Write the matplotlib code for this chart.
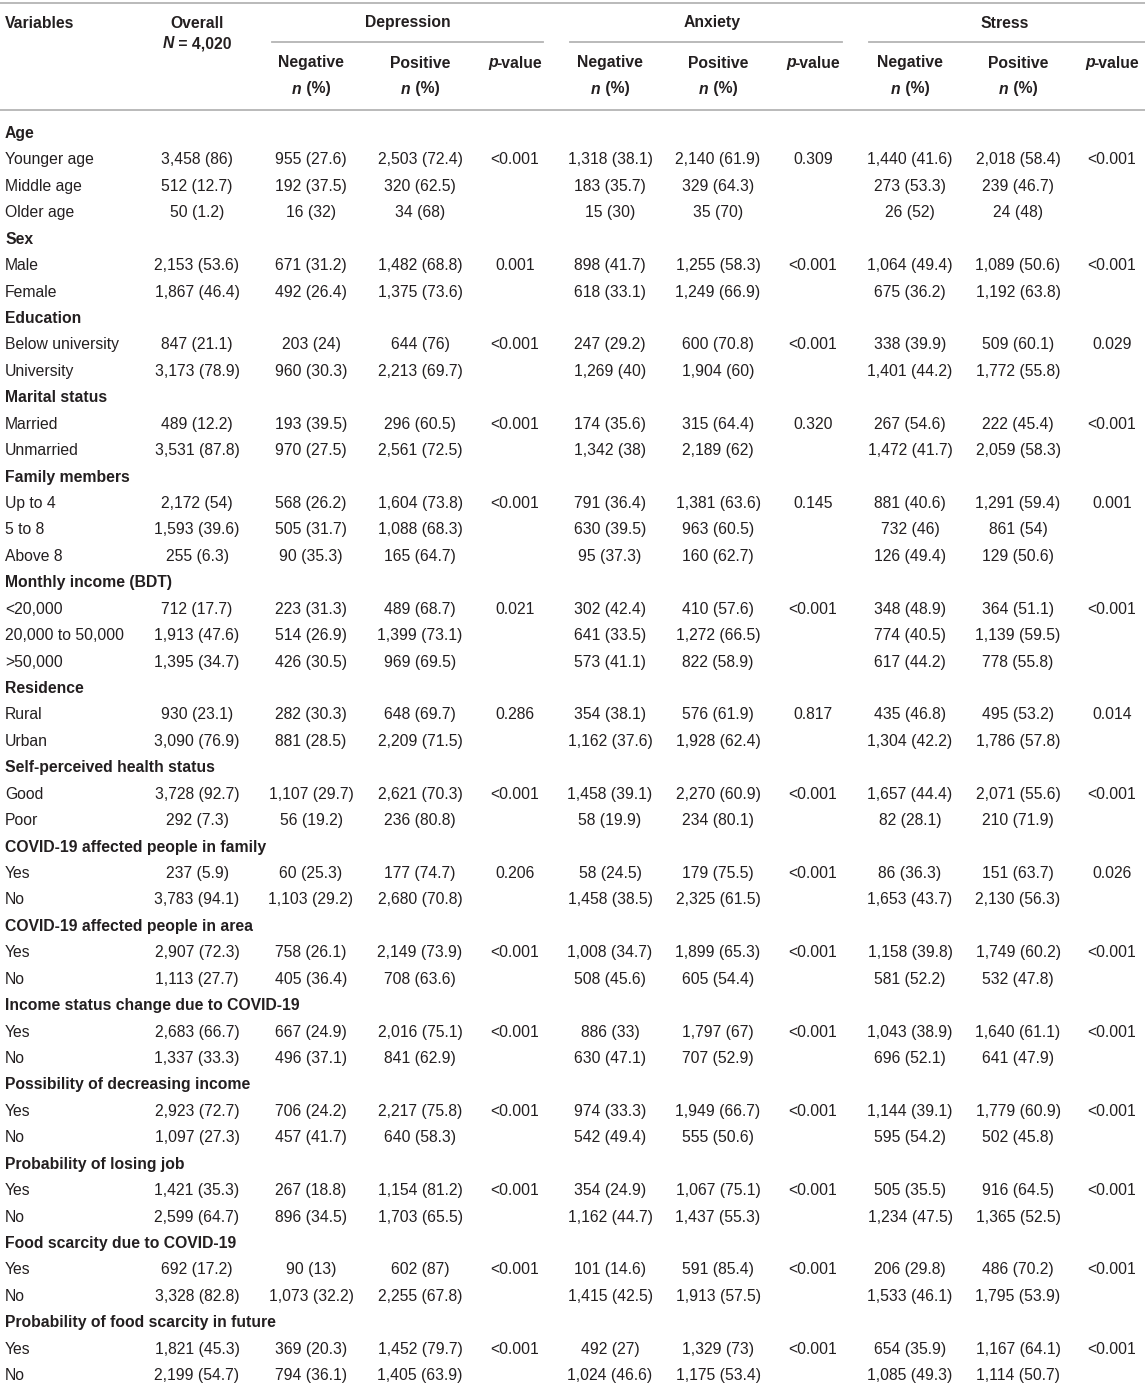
import matplotlib.pyplot as plt

plt.rcParams['font.family'] = ['Liberation Sans', 'DejaVu Sans']

# ---- data ----
sections = ["Age", "Sex", "Education", "Marital status", "Family members",
            "Monthly income (BDT)", "Residence", "Self-perceived health status",
            "COVID-19 affected people in family", "COVID-19 affected people in area",
            "Income status change due to COVID-19", "Possibility of decreasing income",
            "Probability of losing job", "Food scarcity due to COVID-19",
            "Probability of food scarcity in future"]
labels = [
    ["Younger age", "Middle age", "Older age"],
    ["Male", "Female"],
    ["Below university", "University"],
    ["Married", "Unmarried"],
    ["Up to 4", "5 to 8", "Above 8"],
    ["<20,000", "20,000 to 50,000", ">50,000"],
    ["Rural", "Urban"],
    ["Good", "Poor"],
    ["Yes", "No"], ["Yes", "No"], ["Yes", "No"], ["Yes", "No"],
    ["Yes", "No"], ["Yes", "No"], ["Yes", "No"],
]

overall = ["3,458 (86)", "512 (12.7)", "50 (1.2)", "2,153 (53.6)", "1,867 (46.4)",
           "847 (21.1)", "3,173 (78.9)", "489 (12.2)", "3,531 (87.8)",
           "2,172 (54)", "1,593 (39.6)", "255 (6.3)", "712 (17.7)", "1,913 (47.6)",
           "1,395 (34.7)", "930 (23.1)", "3,090 (76.9)", "3,728 (92.7)", "292 (7.3)",
           "237 (5.9)", "3,783 (94.1)", "2,907 (72.3)", "1,113 (27.7)",
           "2,683 (66.7)", "1,337 (33.3)", "2,923 (72.7)", "1,097 (27.3)",
           "1,421 (35.3)", "2,599 (64.7)", "692 (17.2)", "3,328 (82.8)",
           "1,821 (45.3)", "2,199 (54.7)"]
dep_neg = ["955 (27.6)", "192 (37.5)", "16 (32)", "671 (31.2)", "492 (26.4)",
           "203 (24)", "960 (30.3)", "193 (39.5)", "970 (27.5)", "568 (26.2)",
           "505 (31.7)", "90 (35.3)", "223 (31.3)", "514 (26.9)", "426 (30.5)",
           "282 (30.3)", "881 (28.5)", "1,107 (29.7)", "56 (19.2)", "60 (25.3)",
           "1,103 (29.2)", "758 (26.1)", "405 (36.4)", "667 (24.9)", "496 (37.1)",
           "706 (24.2)", "457 (41.7)", "267 (18.8)", "896 (34.5)", "90 (13)",
           "1,073 (32.2)", "369 (20.3)", "794 (36.1)"]
dep_pos = ["2,503 (72.4)", "320 (62.5)", "34 (68)", "1,482 (68.8)", "1,375 (73.6)",
           "644 (76)", "2,213 (69.7)", "296 (60.5)", "2,561 (72.5)", "1,604 (73.8)",
           "1,088 (68.3)", "165 (64.7)", "489 (68.7)", "1,399 (73.1)", "969 (69.5)",
           "648 (69.7)", "2,209 (71.5)", "2,621 (70.3)", "236 (80.8)", "177 (74.7)",
           "2,680 (70.8)", "2,149 (73.9)", "708 (63.6)", "2,016 (75.1)", "841 (62.9)",
           "2,217 (75.8)", "640 (58.3)", "1,154 (81.2)", "1,703 (65.5)", "602 (87)",
           "2,255 (67.8)", "1,452 (79.7)", "1,405 (63.9)"]
dep_p = ["<0.001", "", "", "0.001", "", "<0.001", "", "<0.001", "", "<0.001", "", "",
         "0.021", "", "", "0.286", "", "<0.001", "", "0.206", "", "<0.001", "",
         "<0.001", "", "<0.001", "", "<0.001", "", "<0.001", "", "<0.001", ""]
anx_neg = ["1,318 (38.1)", "183 (35.7)", "15 (30)", "898 (41.7)", "618 (33.1)",
           "247 (29.2)", "1,269 (40)", "174 (35.6)", "1,342 (38)", "791 (36.4)",
           "630 (39.5)", "95 (37.3)", "302 (42.4)", "641 (33.5)", "573 (41.1)",
           "354 (38.1)", "1,162 (37.6)", "1,458 (39.1)", "58 (19.9)", "58 (24.5)",
           "1,458 (38.5)", "1,008 (34.7)", "508 (45.6)", "886 (33)", "630 (47.1)",
           "974 (33.3)", "542 (49.4)", "354 (24.9)", "1,162 (44.7)", "101 (14.6)",
           "1,415 (42.5)", "492 (27)", "1,024 (46.6)"]
anx_pos = ["2,140 (61.9)", "329 (64.3)", "35 (70)", "1,255 (58.3)", "1,249 (66.9)",
           "600 (70.8)", "1,904 (60)", "315 (64.4)", "2,189 (62)", "1,381 (63.6)",
           "963 (60.5)", "160 (62.7)", "410 (57.6)", "1,272 (66.5)", "822 (58.9)",
           "576 (61.9)", "1,928 (62.4)", "2,270 (60.9)", "234 (80.1)", "179 (75.5)",
           "2,325 (61.5)", "1,899 (65.3)", "605 (54.4)", "1,797 (67)", "707 (52.9)",
           "1,949 (66.7)", "555 (50.6)", "1,067 (75.1)", "1,437 (55.3)", "591 (85.4)",
           "1,913 (57.5)", "1,329 (73)", "1,175 (53.4)"]
anx_p = ["0.309", "", "", "<0.001", "", "<0.001", "", "0.320", "", "0.145", "", "",
         "<0.001", "", "", "0.817", "", "<0.001", "", "<0.001", "", "<0.001", "",
         "<0.001", "", "<0.001", "", "<0.001", "", "<0.001", "", "<0.001", ""]
str_neg = ["1,440 (41.6)", "273 (53.3)", "26 (52)", "1,064 (49.4)", "675 (36.2)",
           "338 (39.9)", "1,401 (44.2)", "267 (54.6)", "1,472 (41.7)", "881 (40.6)",
           "732 (46)", "126 (49.4)", "348 (48.9)", "774 (40.5)", "617 (44.2)",
           "435 (46.8)", "1,304 (42.2)", "1,657 (44.4)", "82 (28.1)", "86 (36.3)",
           "1,653 (43.7)", "1,158 (39.8)", "581 (52.2)", "1,043 (38.9)", "696 (52.1)",
           "1,144 (39.1)", "595 (54.2)", "505 (35.5)", "1,234 (47.5)", "206 (29.8)",
           "1,533 (46.1)", "654 (35.9)", "1,085 (49.3)"]
str_pos = ["2,018 (58.4)", "239 (46.7)", "24 (48)", "1,089 (50.6)", "1,192 (63.8)",
           "509 (60.1)", "1,772 (55.8)", "222 (45.4)", "2,059 (58.3)", "1,291 (59.4)",
           "861 (54)", "129 (50.6)", "364 (51.1)", "1,139 (59.5)", "778 (55.8)",
           "495 (53.2)", "1,786 (57.8)", "2,071 (55.6)", "210 (71.9)", "151 (63.7)",
           "2,130 (56.3)", "1,749 (60.2)", "532 (47.8)", "1,640 (61.1)", "641 (47.9)",
           "1,779 (60.9)", "502 (45.8)", "916 (64.5)", "1,365 (52.5)", "486 (70.2)",
           "1,795 (53.9)", "1,167 (64.1)", "1,114 (50.7)"]
str_p = ["<0.001", "", "", "<0.001", "", "0.029", "", "<0.001", "", "0.001", "", "",
         "<0.001", "", "", "0.014", "", "<0.001", "", "0.026", "", "<0.001", "",
         "<0.001", "", "<0.001", "", "<0.001", "", "<0.001", "", "<0.001", ""]

groups = ["Depression", "Anxiety", "Stress"]

# ---- layout ----
W, H = 1145, 1387
fig = plt.figure(figsize=(W / 100, H / 100), dpi=100)
ax = fig.add_axes([0, 0, 1, 1])
ax.set_xlim(0, W)
ax.set_ylim(H, 0)
ax.axis('off')

FS = 11.3
TXT = '#231f20'
LINE = '#b4b4b4'
col_x = [197, 311, 420, 515, 610, 718, 813, 910, 1018, 1112]
columns = [overall, dep_neg, dep_pos, dep_p, anx_neg, anx_pos, anx_p, str_neg, str_pos, str_p]
group_x = [408, 712, 1005]
group_lines = [(272, 543), (570, 842), (869, 1145)]

renderer = fig.canvas.get_renderer()


def mixed(xc, y, parts):
    # parts: (text, style, gap) drawn side by side, centred on xc
    objs = []
    for s, style, gap in parts:
        t = ax.text(0, y, s, fontsize=FS, fontweight='bold', fontstyle=style,
                    color=TXT, va='baseline', ha='left')
        objs.append((t, gap))
    widths = [t.get_window_extent(renderer).width + gap for t, gap in objs]
    x = xc - sum(widths) / 2
    for (t, _), w in zip(objs, widths):
        t.set_x(x)
        x += w


# header rules
ax.plot([0, W], [3, 3], color=LINE, lw=1.3)
ax.plot([0, W], [110, 110], color=LINE, lw=1.3)
for x0, x1 in group_lines:
    ax.plot([x0, x1], [42, 42], color=LINE, lw=1.3)

BL = 4.5  # baseline offset from row centre
ax.text(5, 23 + BL, "Variables", fontsize=FS, fontweight='bold', color=TXT, va='baseline')
ax.text(col_x[0], 23 + BL, "Overall", fontsize=FS, fontweight='bold', color=TXT,
        va='baseline', ha='center')
mixed(col_x[0], 44 + BL, [("N", 'italic', 0), (" = 4,020", 'normal', 0)])
for g, gx in zip(groups, group_x):
    ax.text(gx, 23 + BL, g, fontsize=FS, fontweight='bold', color=TXT,
            va='baseline', ha='center')
for k in range(3):
    xn, xp, xv = col_x[1 + 3 * k], col_x[2 + 3 * k], col_x[3 + 3 * k]
    for xx, name in [(xn, "Negative"), (xp, "Positive")]:
        ax.text(xx, 63 + BL, name, fontsize=FS, fontweight='bold', color=TXT,
                va='baseline', ha='center')
        mixed(xx, 89 + BL, [("n", 'italic', 1), (" (%)", 'normal', 0)])
    mixed(xv, 63 + BL, [("p", 'italic', -1), ("-value", 'normal', 0)])

# body
y0, dy = 133.5, 26.43
y = y0
r = 0
for sec, labs in zip(sections, labels):
    ax.text(5, y + BL, sec, fontsize=FS, fontweight='bold', color=TXT, va='baseline')
    y += dy
    for lab in labs:
        ax.text(5, y + BL, lab, fontsize=FS, color=TXT, va='baseline')
        for xx, col in zip(col_x, columns):
            if col[r]:
                ax.text(xx, y + BL, col[r], fontsize=FS, color=TXT,
                        va='baseline', ha='center')
        r += 1
        y += dy

fig.savefig("out.png", dpi=100)
